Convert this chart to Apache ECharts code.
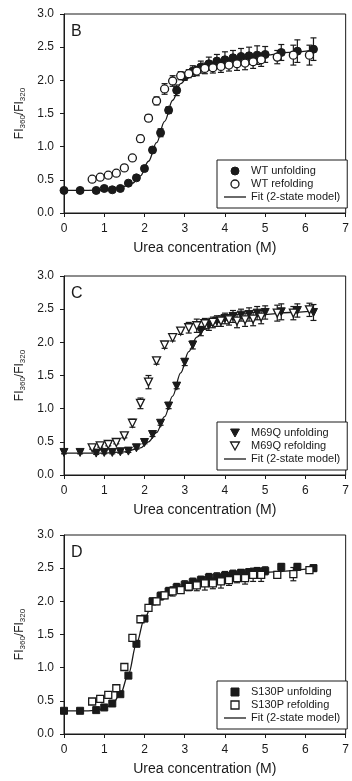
<!DOCTYPE html>
<html>
<head>
<meta charset="utf-8">
<script src="https://cdn.jsdelivr.net/npm/echarts@6/dist/echarts.min.js"></script>
<style>
  html, body { margin: 0; padding: 0; background: #fff; }
  #chart { width: 352px; height: 781px; }
</style>
</head>
<body>
<div id="chart"></div>
<script>
// x positions (urea, M)
var unfoldX = [0, 0.4, 0.8, 1.0, 1.2, 1.4, 1.6, 1.8, 2.0, 2.2, 2.4, 2.6, 2.8, 3.0, 3.2, 3.4, 3.6, 3.8, 4.0, 4.2, 4.4, 4.6, 4.8, 5.0, 5.4, 5.8, 6.2];
var refoldX = [0.7, 0.9, 1.1, 1.3, 1.5, 1.7, 1.9, 2.1, 2.3, 2.5, 2.7, 2.9, 3.1, 3.3, 3.5, 3.7, 3.9, 4.1, 4.3, 4.5, 4.7, 4.9, 5.3, 5.7, 6.1];

// panel B - WT
var wtUnfold = [0.34, 0.34, 0.34, 0.37, 0.35, 0.37, 0.45, 0.53, 0.67, 0.95, 1.21, 1.55, 1.85, 2.06, 2.14, 2.2, 2.25, 2.29, 2.31, 2.34, 2.36, 2.37, 2.38, 2.39, 2.42, 2.44, 2.47];
var wtUnfoldErr = [0.02, 0.02, 0.02, 0.02, 0.02, 0.02, 0.02, 0.03, 0.03, 0.04, 0.06, 0.05, 0.08, 0.06, 0.08, 0.09, 0.1, 0.1, 0.12, 0.11, 0.12, 0.13, 0.14, 0.12, 0.12, 0.17, 0.17];
var wtRefold = [0.51, 0.54, 0.57, 0.6, 0.68, 0.83, 1.12, 1.43, 1.69, 1.87, 1.99, 2.07, 2.1, 2.14, 2.18, 2.19, 2.21, 2.23, 2.25, 2.26, 2.28, 2.31, 2.35, 2.38, 2.38];
var wtRefoldErr = [0.02, 0.02, 0.02, 0.02, 0.02, 0.03, 0.05, 0.05, 0.06, 0.08, 0.08, 0.06, 0.06, 0.07, 0.08, 0.08, 0.09, 0.09, 0.1, 0.1, 0.1, 0.1, 0.1, 0.15, 0.15];
var wtFitX = [0, 0.5, 1.0, 1.4, 1.7, 1.9, 2.1, 2.3, 2.5, 2.7, 2.9, 3.1, 3.4, 3.8, 4.4, 5.0, 5.6, 6.2];
var wtFitY = [0.34, 0.34, 0.35, 0.38, 0.45, 0.56, 0.78, 1.06, 1.38, 1.7, 1.95, 2.08, 2.18, 2.26, 2.33, 2.38, 2.42, 2.46];

// panel C - M69Q
var m69Unfold = [0.34, 0.34, 0.33, 0.34, 0.34, 0.35, 0.36, 0.41, 0.49, 0.61, 0.78, 1.04, 1.34, 1.7, 1.96, 2.17, 2.26, 2.32, 2.36, 2.39, 2.41, 2.42, 2.44, 2.45, 2.46, 2.48, 2.45];
var m69UnfoldErr = [0.02, 0.02, 0.02, 0.02, 0.02, 0.02, 0.02, 0.02, 0.02, 0.03, 0.03, 0.04, 0.04, 0.05, 0.06, 0.07, 0.08, 0.08, 0.08, 0.09, 0.09, 0.1, 0.1, 0.1, 0.12, 0.1, 0.12];
var m69Refold = [0.41, 0.44, 0.46, 0.49, 0.59, 0.78, 1.08, 1.4, 1.72, 1.96, 2.07, 2.17, 2.22, 2.25, 2.28, 2.3, 2.32, 2.34, 2.32, 2.34, 2.35, 2.38, 2.44, 2.44, 2.49];
var m69RefoldErr = [0.02, 0.02, 0.02, 0.02, 0.03, 0.06, 0.08, 0.1, 0.05, 0.05, 0.05, 0.05, 0.08, 0.1, 0.08, 0.08, 0.08, 0.08, 0.1, 0.1, 0.1, 0.1, 0.12, 0.1, 0.1];
var m69FitX = [0, 0.5, 1.0, 1.5, 1.9, 2.1, 2.3, 2.5, 2.7, 2.9, 3.1, 3.3, 3.5, 3.8, 4.2, 5.0, 5.6, 6.2];
var m69FitY = [0.33, 0.33, 0.33, 0.35, 0.41, 0.5, 0.64, 0.88, 1.19, 1.54, 1.86, 2.08, 2.2, 2.3, 2.36, 2.42, 2.45, 2.47];

// panel D - S130P
var s130Unfold = [0.35, 0.35, 0.36, 0.4, 0.46, 0.6, 0.88, 1.36, 1.74, 2.0, 2.08, 2.15, 2.21, 2.25, 2.29, 2.32, 2.36, 2.37, 2.39, 2.41, 2.43, 2.44, 2.45, 2.46, 2.52, 2.52, 2.5];
var s130UnfoldErr = [0.02, 0.02, 0.02, 0.02, 0.02, 0.03, 0.04, 0.04, 0.04, 0.05, 0.06, 0.06, 0.06, 0.06, 0.06, 0.06, 0.06, 0.06, 0.06, 0.06, 0.05, 0.05, 0.06, 0.06, 0.05, 0.05, 0.05];
var s130Refold = [0.49, 0.53, 0.59, 0.69, 1.01, 1.45, 1.73, 1.9, 2.0, 2.09, 2.15, 2.17, 2.22, 2.24, 2.27, 2.27, 2.3, 2.32, 2.35, 2.35, 2.4, 2.4, 2.4, 2.41, 2.47];
var s130RefoldErr = [0.02, 0.02, 0.02, 0.02, 0.02, 0.03, 0.05, 0.03, 0.05, 0.05, 0.07, 0.05, 0.06, 0.08, 0.1, 0.08, 0.1, 0.08, 0.07, 0.09, 0.1, 0.1, 0.05, 0.1, 0.04];
var s130FitX = [0, 0.6, 1.0, 1.2, 1.4, 1.6, 1.8, 2.0, 2.2, 2.4, 2.7, 3.0, 3.5, 4.2, 5.0, 6.2];
var s130FitY = [0.35, 0.35, 0.38, 0.45, 0.6, 0.9, 1.36, 1.74, 1.97, 2.08, 2.16, 2.22, 2.29, 2.37, 2.44, 2.5];

var xTicks = [0, 1, 2, 3, 4, 5, 6, 7];
var yTicks = ['0.0', '0.5', '1.0', '1.5', '2.0', '2.5', '3.0'];

var FONT = 'Liberation Sans';
var INK = '#1a1a1a';

// legend icons (path icons keep their aspect in the legend)
var ICON_DOWN = 'path://M0,0 L10,0 L5,9 Z';
var ICON_SQUARE = 'path://M0,0 L10,0 L10,10 L0,10 Z';
var ICON_LINE = 'path://M0,0 L22,0 L22,1.3 L0,1.3 Z';

var panels = [
  {label: 'B', name: 'WT', symbol: 'circle', rotate: 0, size: 8, icon: 'circle',
   unfold: wtUnfold, unfoldErr: wtUnfoldErr, refold: wtRefold, refoldErr: wtRefoldErr, fitX: wtFitX, fitY: wtFitY},
  {label: 'C', name: 'M69Q', symbol: 'triangle', rotate: 180, size: 8, icon: ICON_DOWN,
   unfold: m69Unfold, unfoldErr: m69UnfoldErr, refold: m69Refold, refoldErr: m69RefoldErr, fitX: m69FitX, fitY: m69FitY},
  {label: 'D', name: 'S130P', symbol: 'rect', rotate: 0, size: 7, icon: ICON_SQUARE,
   unfold: s130Unfold, unfoldErr: s130UnfoldErr, refold: s130Refold, refoldErr: s130RefoldErr, fitX: s130FitX, fitY: s130FitY}
];
var tops = [14, 276, 535];
var plotH = 199;

function zip(xs, ys, es) {
  return xs.map(function (x, i) { return es ? [x, ys[i], es[i]] : [x, ys[i]]; });
}

function errorBars(params, api) {
  var x = api.value(0), y = api.value(1), e = api.value(2);
  var hi = api.coord([x, y + e]);
  var lo = api.coord([x, y - e]);
  var cap = 3;
  var style = {stroke: INK, lineWidth: 1.2};
  return {
    type: 'group',
    children: [
      {type: 'line', shape: {x1: hi[0], y1: hi[1], x2: lo[0], y2: lo[1]}, style: style},
      {type: 'line', shape: {x1: hi[0] - cap, y1: hi[1], x2: hi[0] + cap, y2: hi[1]}, style: style},
      {type: 'line', shape: {x1: lo[0] - cap, y1: lo[1], x2: lo[0] + cap, y2: lo[1]}, style: style}
    ]
  };
}

var grids = [], xAxes = [], yAxes = [], series = [], legends = [], titles = [];

panels.forEach(function (p, i) {
  var top = tops[i];
  grids.push({left: 64, width: 287, top: top, height: plotH, show: true, borderColor: INK, borderWidth: 1});
  xAxes.push({
    gridIndex: i, type: 'value', min: 0, max: 7, interval: 1,
    name: 'Urea concentration (M)', nameLocation: 'middle', nameGap: 28,
    nameTextStyle: {fontFamily: FONT, fontSize: 14, color: INK},
    axisLine: {lineStyle: {color: INK, width: 1}},
    axisTick: {inside: false, length: 4, lineStyle: {color: INK}},
    axisLabel: {fontFamily: FONT, fontSize: 12, color: INK, margin: 10,
      formatter: function (v) { return xTicks.indexOf(v) >= 0 ? String(v) : ''; }},
    splitLine: {show: false}
  });
  yAxes.push({
    gridIndex: i, type: 'value', min: 0, max: 3, interval: 0.5,
    name: 'FI{s|360}/FI{s|320}', nameLocation: 'middle', nameGap: 36, nameRotate: 90,
    nameTextStyle: {fontFamily: FONT, fontSize: 12, color: INK,
      rich: {s: {fontFamily: FONT, fontSize: 8, color: INK, padding: [6, 0, 0, 0]}}},
    axisLine: {lineStyle: {color: INK, width: 1}},
    axisTick: {inside: false, length: 4, lineStyle: {color: INK}},
    axisLabel: {fontFamily: FONT, fontSize: 12, color: INK, margin: 10,
      formatter: function (v) { return yTicks[Math.round(v * 2)]; }},
    splitLine: {show: false}
  });

  var uName = p.name + ' unfolding', rName = p.name + ' refolding';
  series.push({
    type: 'custom', xAxisIndex: i, yAxisIndex: i, renderItem: errorBars, z: 1,
    data: zip(unfoldX, p.unfold, p.unfoldErr), silent: true
  });
  series.push({
    type: 'custom', xAxisIndex: i, yAxisIndex: i, renderItem: errorBars, z: 1,
    data: zip(refoldX, p.refold, p.refoldErr), silent: true
  });
  series.push({
    name: 'Fit (2-state model)', type: 'line', xAxisIndex: i, yAxisIndex: i,
    data: zip(p.fitX, p.fitY), showSymbol: false, symbol: 'none', smooth: 0.35, smoothMonotone: 'x',
    lineStyle: {color: INK, width: 1.3}, itemStyle: {color: INK}, z: 2, animation: false
  });
  series.push({
    name: uName, type: 'scatter', xAxisIndex: i, yAxisIndex: i,
    data: zip(unfoldX, p.unfold), symbol: p.symbol, symbolRotate: p.rotate, symbolSize: p.size,
    itemStyle: {color: INK, borderColor: INK, borderWidth: 1, opacity: 1}, z: 3
  });
  series.push({
    name: rName, type: 'scatter', xAxisIndex: i, yAxisIndex: i,
    data: zip(refoldX, p.refold), symbol: p.symbol, symbolRotate: p.rotate, symbolSize: p.size,
    itemStyle: {color: '#fff', borderColor: INK, borderWidth: 1.3, opacity: 1}, z: 4
  });

  legends.push({
    data: [
      {name: uName, icon: p.icon, itemStyle: {color: INK, borderColor: INK, borderWidth: 1}},
      {name: rName, icon: p.icon, itemStyle: {color: '#fff', borderColor: INK, borderWidth: 1.3}},
      {name: 'Fit (2-state model)', icon: ICON_LINE, itemStyle: {color: INK, borderWidth: 0}}
    ],
    orient: 'vertical', left: 217, top: top + plotH - 53,
    width: 130, padding: [5, 7, 5, 7], itemGap: 1,
    itemWidth: 22, itemHeight: 8, symbolKeepAspect: true,
    borderColor: INK, borderWidth: 1, backgroundColor: '#fff',
    selectedMode: false,
    textStyle: {fontFamily: FONT, fontSize: 11, color: INK, lineHeight: 12}
  });
  titles.push({
    text: p.label, left: 66, top: top + 5,
    textStyle: {fontFamily: FONT, fontSize: 16, fontWeight: 'normal', color: INK}
  });
});

var chart = echarts.init(document.getElementById('chart'), null, {renderer: 'canvas'});
chart.setOption({
  animation: false,
  backgroundColor: '#fff',
  title: titles,
  legend: legends,
  grid: grids,
  xAxis: xAxes,
  yAxis: yAxes,
  series: series
});
</script>
</body>
</html>
